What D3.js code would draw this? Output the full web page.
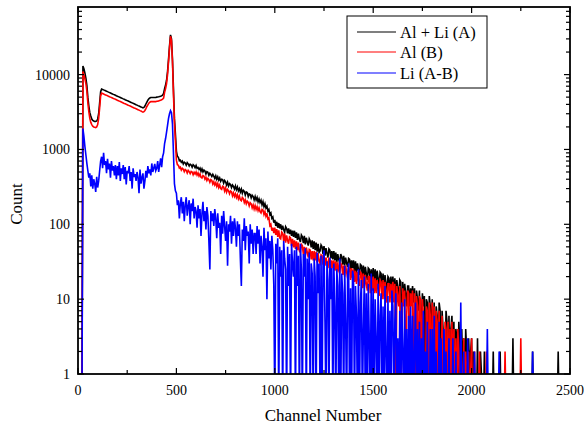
<!DOCTYPE html>
<html>
<head>
<meta charset="utf-8">
<script src="https://cdn.jsdelivr.net/npm/d3@7"></script>
<style>
  body { margin: 0; background: #fff; }
  svg { display: block; font-family: "Liberation Serif", "Times New Roman", serif; }
</style>
</head>
<body>
<svg id="chart" width="584" height="429"></svg>
<script>
// Channel sampling: channels 0, 5, 10, ... 2495 (20 values per row = 100 channels)
const channelStart = 0;
const channelStep = 5;

// Al + Li (A)
const seriesA = [
  0,0,0,0,0,13000,12000,10500,9000,7200,5000,3800,3100,2800,2550,2450,2400,2370,2360,2400,
  2550,3000,4200,5900,6400,6330,6250,6160,6080,6000,5920,5830,5750,5680,5600,5520,5440,5370,5300,5220,
  5150,5080,5010,4950,4880,4810,4740,4680,4610,4550,4490,4430,4370,4310,4250,4190,4130,4080,4020,3960,
  3910,3850,3800,3750,3700,3650,3600,3650,3800,4050,4300,4550,4750,4870,4950,4950,4950,4950,4950,4950,
  5000,5020,5050,5100,5150,5220,5300,5600,6500,7300,8400,11000,16000,24000,34000,30000,16000,6500,2600,1600,
  950,810,785,705,720,675,700,640,675,660,615,665,640,600,635,620,580,625,605,570,
  610,560,575,540,565,510,550,500,530,515,470,505,495,450,480,460,435,465,440,410,
  445,400,430,390,415,375,400,395,355,385,370,335,365,325,350,340,310,335,320,295,
  325,290,315,280,300,270,295,260,285,275,245,270,265,235,255,250,225,245,235,212,
  235,210,228,200,218,195,210,182,200,172,188,165,175,150,158,135,142,120,125,105,
  115,95,108,90,104,88,100,84,96,85,78,93,88,76,88,74,85,70,82,68,
  82,66,78,62,75,63,58,72,68,56,70,54,66,58,52,64,60,49,61,47,
  59,45,57,43,55,42,44,53,50,40,51,38,48,41,36,47,45,35,44,34,
  44,33,42,31,40,34,30,40,37,29,38,28,36,30,27,35,34,25,33,26,
  33,23,32,22,30,25,21,29,28,20,28,19,27,22,18,26,25,17,25,18,
  26,17,25,16,24,19,15,23,22,14,22,14,21,16,13,20,19,12,20,13,
  20,12,19,11,18,14,10,18,17,2,17,10,16,12,8,15,15,8,14,10,
  15,9,14,0,13,10,7,13,0,5,12,8,11,0,10,9,0,11,8,3,
  10,0,9,0,8,6,0,9,7,0,7,4,0,1,7,5,0,6,0,4,
  6,2,5,0,4,3,0,5,3,0,4,1,3,0,4,2,0,3,1,2,
  3,0,2,0,1,0,3,0,0,2,1,0,0,2,0,0,1,0,0,0,
  0,0,2,0,0,1,0,0,0,2,0,0,0,0,1,0,0,0,0,0,
  0,0,3,0,0,0,0,0,0,0,0,0,0,0,0,0,0,0,0,0,
  0,0,2,0,0,0,0,0,0,0,0,0,0,0,0,0,0,0,0,0,
  0,0,0,0,0,0,0,0,2,0,0,0,0,0,0,0,0,0,0,0
];

// Al (B)
const seriesB = [
  0,0,0,0,0,11000,10000,8800,7600,6000,4200,3200,2600,2300,2150,2050,2000,1980,1960,2000,
  2150,2600,3600,5200,5650,5580,5500,5420,5350,5280,5220,5140,5070,5000,4940,4870,4800,4740,4680,4610,
  4540,4480,4420,4360,4300,4240,4180,4120,4070,4010,3960,3900,3850,3800,3750,3690,3640,3590,3540,3500,
  3450,3400,3350,3300,3260,3200,3150,3200,3320,3520,3750,3950,4150,4270,4350,4350,4350,4350,4350,4350,
  4400,4420,4450,4500,4550,4600,4700,4850,5800,6500,7600,10000,14800,22500,32500,28500,15000,5500,2300,1300,
  720,625,615,565,580,530,560,545,505,540,525,485,525,505,475,510,500,460,495,470,
  500,455,485,440,470,425,415,450,440,400,425,385,410,395,365,395,385,345,370,335,
  360,322,350,310,335,300,293,322,315,278,305,268,292,280,255,278,272,240,262,235,
  255,228,248,218,238,212,206,228,220,195,212,188,204,196,176,195,188,166,182,160,
  178,158,172,152,166,148,142,158,154,135,148,128,140,118,122,96,100,82,90,76,
  90,72,86,68,83,66,64,79,76,60,75,57,71,61,55,68,66,51,64,49,
  61,47,59,45,57,44,42,54,52,40,50,38,49,42,36,46,45,34,44,33,
  44,33,43,31,41,32,30,39,38,29,38,28,36,31,26,35,34,25,33,26,
  33,24,32,23,31,24,22,30,29,21,28,20,28,23,19,27,26,18,26,19,
  25,17,24,16,23,18,15,23,22,14,22,14,21,16,13,20,20,12,20,13,
  20,12,19,12,18,14,11,18,17,10,18,10,17,13,9,16,16,9,16,10,
  17,9,16,0,15,11,8,15,0,3,14,8,13,0,6,13,12,0,12,8,
  13,0,12,0,11,8,0,11,10,0,10,6,0,0,8,7,0,9,6,0,
  9,0,8,0,7,5,0,7,0,1,6,0,0,5,4,0,5,0,4,0,
  5,1,4,0,3,0,4,2,0,3,1,0,3,0,2,1,0,2,0,1,
  3,0,0,2,0,1,0,0,2,0,0,1,0,0,0,2,0,0,1,0,
  0,0,0,1,0,0,0,0,0,0,0,0,0,0,2,0,0,0,0,0,
  0,0,0,0,0,0,0,0,0,0,3,0,0,0,0,0,0,0,0,0,
  0,0,0,0,0,0,0,0,0,0,0,0,0,0,0,0,0,0,0,0,
  0,0,0,0,0,0,0,0,0,0,0,0,0,0,0,0,0,0,0,0
];

// Li (A-B)
const seriesLi = [
  0,0,0,0,0,1900,1500,1100,850,650,520,420,480,320,450,300,400,350,270,430,
  310,380,520,700,800,560,900,620,700,480,750,540,650,420,700,520,600,450,620,400,
  600,450,680,380,560,470,620,400,580,340,520,480,600,380,500,300,560,430,470,380,
  500,420,260,540,350,420,480,300,380,520,420,600,480,540,450,650,500,560,640,520,
  560,700,500,620,760,580,800,900,1200,1400,1700,2100,2600,3000,3300,3100,2200,900,350,280,
  260,180,210,120,190,230,140,200,110,180,230,130,175,210,100,190,150,220,120,170,
  150,90,180,120,160,70,140,200,110,150,85,170,130,60,25,150,110,140,95,160,
  120,65,140,90,105,40,130,75,150,95,60,110,28,100,80,130,55,110,70,120,
  90,50,110,70,100,35,15,85,60,120,45,95,70,80,30,100,55,85,40,75,
  75,40,95,55,85,30,70,50,20,90,45,65,10,80,35,60,25,70,45,15,
  0,55,30,65,0,50,20,45,0,60,35,25,0,50,15,40,0,55,30,20,
  45,0,50,15,38,0,55,25,0,40,20,48,0,35,10,42,0,30,22,0,
  35,20,0,42,12,30,0,38,0,28,45,5,0,32,18,0,36,10,26,0,
  30,8,0,25,15,0,35,0,22,12,0,28,5,0,20,30,0,14,0,24,
  20,0,15,6,0,25,0,9,18,0,4,20,0,12,0,16,3,0,22,0,
  14,0,10,3,0,16,0,6,12,0,8,0,15,2,0,11,0,7,0,13,
  8,0,5,12,0,3,0,7,0,9,2,0,10,0,4,0,6,0,8,0,
  6,0,2,9,0,4,0,5,0,3,0,7,0,2,0,5,0,0,4,0,
  4,0,6,0,2,0,0,5,0,3,0,0,4,0,2,0,0,3,0,0,
  0,3,0,0,2,0,0,0,0,9,0,0,2,0,0,0,3,0,0,0,
  0,0,0,2,0,0,0,0,0,0,0,0,0,0,0,0,4,0,0,0,
  0,0,0,0,0,0,0,0,2,0,0,0,0,0,0,0,0,0,0,0,
  0,0,0,0,0,0,0,0,0,0,0,0,0,0,0,0,0,0,0,0,
  0,0,2,0,0,0,0,0,0,0,0,0,0,0,0,0,0,0,0,0,
  0,0,0,0,0,0,0,0,0,0,0,0,0,0,0,0,0,0,0,0
];

const seriesNames = ["Al + Li (A)", "Al (B)", "Li (A-B)"];
const seriesColors = ["#000000", "#ff0000", "#0000ff"];
const xTickValues = [0, 500, 1000, 1500, 2000, 2500];
const yTickValues = [1, 10, 100, 1000, 10000];
const xTitle = "Channel Number";
const yTitle = "Count";

(function () {
const svg = d3.select("#chart");
const pL = 78, pR = 570, pT = 7, pB = 374;

const x = d3.scaleLinear().domain([0, 2500]).range([pL, pR]);
const y = d3.scaleLog().domain([1, 80000]).range([pB, pT]);

svg.append("defs").append("clipPath").attr("id", "clip")
  .append("rect").attr("x", pL).attr("y", pT).attr("width", pR - pL).attr("height", pB - pT);

const floorVal = 0.3;
const line = d3.line()
  .x((d, i) => x(channelStart + i * channelStep))
  .y(d => y(d > floorVal ? d : floorVal));

const plot = svg.append("g").attr("clip-path", "url(#clip)");
[seriesA, seriesB, seriesLi].forEach((s, k) => {
  plot.append("path")
    .datum(s)
    .attr("d", line)
    .attr("fill", "none")
    .attr("stroke", seriesColors[k])
    .attr("stroke-width", 1.6)
    .attr("stroke-linejoin", "miter");
});

// minor ticks
const xMinor = d3.range(250, 2500, 500);
const yMinor = [];
[1, 10, 100, 1000, 10000].forEach(dec => {
  for (let m = 2; m <= 9; m++) { const v = dec * m; if (v < 80000) yMinor.push(v); }
});

const axes = svg.append("g").attr("stroke", "#000").attr("stroke-width", 1.2);
const majLen = 6, minLen = 4;
xTickValues.forEach(v => {
  axes.append("line").attr("x1", x(v)).attr("x2", x(v)).attr("y1", pB).attr("y2", pB - majLen);
  axes.append("line").attr("x1", x(v)).attr("x2", x(v)).attr("y1", pT).attr("y2", pT + majLen);
});
xMinor.forEach(v => {
  axes.append("line").attr("x1", x(v)).attr("x2", x(v)).attr("y1", pB).attr("y2", pB - minLen);
  axes.append("line").attr("x1", x(v)).attr("x2", x(v)).attr("y1", pT).attr("y2", pT + minLen);
});
yTickValues.forEach(v => {
  axes.append("line").attr("x1", pL).attr("x2", pL + majLen).attr("y1", y(v)).attr("y2", y(v));
  axes.append("line").attr("x1", pR).attr("x2", pR - majLen).attr("y1", y(v)).attr("y2", y(v));
});
yMinor.forEach(v => {
  axes.append("line").attr("x1", pL).attr("x2", pL + minLen).attr("y1", y(v)).attr("y2", y(v));
  axes.append("line").attr("x1", pR).attr("x2", pR - minLen).attr("y1", y(v)).attr("y2", y(v));
});

// frame
svg.append("rect").attr("x", pL).attr("y", pT).attr("width", pR - pL).attr("height", pB - pT)
  .attr("fill", "none").attr("stroke", "#000").attr("stroke-width", 1.8);

// tick labels
svg.append("g").selectAll("text").data(xTickValues).join("text")
  .attr("x", d => x(d)).attr("y", 395)
  .attr("text-anchor", "middle").attr("font-size", 14).attr("fill", "#000")
  .text(d => d);
svg.append("g").selectAll("text").data(yTickValues).join("text")
  .attr("x", 70).attr("y", d => y(d) + 5)
  .attr("text-anchor", "end").attr("font-size", 14).attr("fill", "#000")
  .text(d => d);

// axis titles
svg.append("text").attr("x", 323).attr("y", 421).attr("text-anchor", "middle")
  .attr("font-size", 17).attr("fill", "#000").text(xTitle);
svg.append("text").attr("transform", "translate(22,204) rotate(-90)").attr("text-anchor", "middle")
  .attr("font-size", 17).attr("fill", "#000").text(yTitle);

// legend
const lg = svg.append("g");
lg.append("rect").attr("x", 347).attr("y", 16).attr("width", 140).attr("height", 72)
  .attr("fill", "#fff").attr("stroke", "#000").attr("stroke-width", 1);
const rowsY = [32, 52, 73];
seriesNames.forEach((n, i) => {
  lg.append("line").attr("x1", 357).attr("x2", 396).attr("y1", rowsY[i]).attr("y2", rowsY[i])
    .attr("stroke", seriesColors[i]).attr("stroke-width", 1.2);
  lg.append("text").attr("x", 400).attr("y", rowsY[i] + 5.5).attr("font-size", 16.5).attr("fill", "#000").text(n);
});
})();
</script>
</body>
</html>
